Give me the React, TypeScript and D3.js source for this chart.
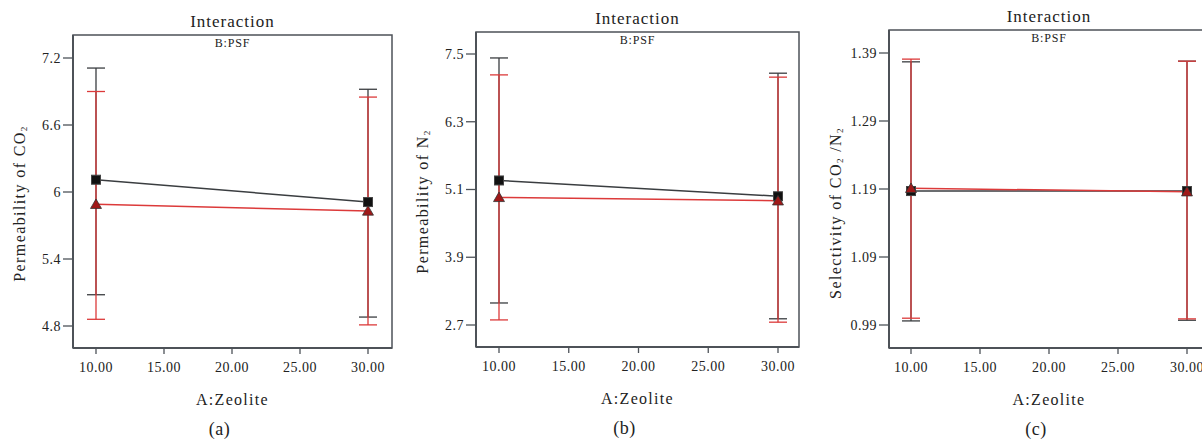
import React from "react";
import * as d3 from "d3";

// A:Zeolite levels
const zeolite = [10, 30];
const xTicks = [10, 15, 20, 25, 30];

// (a) permeability of CO2
const co2MeanLow = [6.11, 5.91];
const co2UpLow = [7.11, 6.92];
const co2DownLow = [5.08, 4.88];
const co2MeanHigh = [5.89, 5.83];
const co2UpHigh = [6.9, 6.85];
const co2DownHigh = [4.86, 4.81];
const co2Ticks = [4.8, 5.4, 6, 6.6, 7.2];

// (b) permeability of N2
const n2MeanLow = [5.26, 4.98];
const n2UpLow = [7.43, 7.16];
const n2DownLow = [3.09, 2.81];
const n2MeanHigh = [4.96, 4.9];
const n2UpHigh = [7.13, 7.09];
const n2DownHigh = [2.79, 2.75];
const n2Ticks = [2.7, 3.9, 5.1, 6.3, 7.5];

// (c) selectivity CO2/N2
const selMeanLow = [1.187, 1.187];
const selUpLow = [1.377, 1.378];
const selDownLow = [0.996, 0.997];
const selMeanHigh = [1.191, 1.186];
const selUpHigh = [1.381, 1.378];
const selDownHigh = [1.0, 0.999];
const selTicks = [0.99, 1.09, 1.19, 1.29, 1.39];

const FONT = "Liberation Serif, DejaVu Serif, serif";
const FRAME = "#4d5258";
const DARK = "#3a3d40";
const RED = "#dc3a3a";

type Series = { mean: number[]; up: number[]; down: number[] };

const panels = [
  {
    tag: "(a)",
    label: ["Permeability of CO", "2", ""],
    frame: [73, 35, 392, 348],
    xr: [96, 368],
    yd: [4.8, 7.2],
    yr: [326, 58],
    ticks: co2Ticks,
    fmt: (d: number) => String(d),
    labelDy: 12,
    low: { mean: co2MeanLow, up: co2UpLow, down: co2DownLow },
    high: { mean: co2MeanHigh, up: co2UpHigh, down: co2DownHigh },
  },
  {
    tag: "(b)",
    label: ["Permeability of N", "2", ""],
    frame: [476, 32, 799, 347],
    xr: [499, 778],
    yd: [2.7, 7.5],
    yr: [325, 54],
    ticks: n2Ticks,
    fmt: (d: number) => d.toFixed(1),
    labelDy: 12,
    low: { mean: n2MeanLow, up: n2UpLow, down: n2DownLow },
    high: { mean: n2MeanHigh, up: n2UpHigh, down: n2DownHigh },
  },
  {
    tag: "(c)",
    label: ["Selectivity of CO", "2", " /N", "2"],
    frame: [889, 30, 1209, 348],
    xr: [911, 1187],
    yd: [0.99, 1.39],
    yr: [325, 53],
    ticks: selTicks,
    fmt: (d: number) => d.toFixed(2),
    labelDy: 24,
    low: { mean: selMeanLow, up: selUpLow, down: selDownLow },
    high: { mean: selMeanHigh, up: selUpHigh, down: selDownHigh },
  },
];

const Whiskers = ({ s, x, y, color }: { s: Series; x: any; y: any; color: string }) => (
  <g stroke={color} strokeWidth={1.3}>
    {zeolite.map((z, i) => (
      <g key={i}>
        <line x1={x(z)} x2={x(z)} y1={y(s.up[i])} y2={y(s.down[i])} />
        <line x1={x(z) - 9} x2={x(z) + 9} y1={y(s.up[i])} y2={y(s.up[i])} />
        <line x1={x(z) - 9} x2={x(z) + 9} y1={y(s.down[i])} y2={y(s.down[i])} />
      </g>
    ))}
  </g>
);

const Panel = ({ p }: { p: (typeof panels)[number] }) => {
  const [l, t, r, b] = p.frame;
  const x = d3.scaleLinear().domain([10, 30]).range(p.xr);
  const y = d3.scaleLinear().domain(p.yd).range(p.yr);
  const line = d3
    .line<number>()
    .x((_, i) => x(zeolite[i]))
    .y((d) => y(d));
  const cx = (l + r) / 2;
  const cy = (t + b) / 2 + p.labelDy;
  const tri = d3.symbol(d3.symbolTriangle, 52)();
  return (
    <g style={{ fontFamily: FONT }} fill="#222">
      <text x={cx} y={t - 8} textAnchor="middle" fontSize={17} letterSpacing={1}>
        Interaction
      </text>
      <text x={cx} y={t + 12} textAnchor="middle" fontSize={12} letterSpacing={0.8}>
        B:PSF
      </text>
      <rect x={l} y={t} width={r - l} height={b - t} fill="none" stroke={FRAME} strokeWidth={1.5} />
      <line x1={l} x2={l} y1={t} y2={b} stroke={FRAME} strokeWidth={2} />
      <line x1={l} x2={r} y1={b} y2={b} stroke={FRAME} strokeWidth={2} />
      {p.ticks.map((v) => (
        <g key={v}>
          <line x1={l - 10} x2={l} y1={y(v)} y2={y(v)} stroke={FRAME} strokeWidth={1.3} />
          <text x={l - 12} y={y(v)} dy="0.35em" textAnchor="end" fontSize={14} letterSpacing={0.5}>
            {p.fmt(v)}
          </text>
        </g>
      ))}
      {xTicks.map((v) => (
        <g key={v}>
          <line x1={x(v)} x2={x(v)} y1={b} y2={b + 6} stroke={FRAME} strokeWidth={1.3} />
          <text x={x(v)} y={b + 24} textAnchor="middle" fontSize={14} letterSpacing={0.5}>
            {v.toFixed(2)}
          </text>
        </g>
      ))}
      <text x={cx} y={b + 57} textAnchor="middle" fontSize={16} letterSpacing={1.3}>
        A:Zeolite
      </text>
      <text x={cx - 13} y={b + 87} textAnchor="middle" fontSize={18} letterSpacing={0.5}>
        {p.tag}
      </text>
      <text
        transform={`translate(${l - 54},${cy}) rotate(-90)`}
        textAnchor="middle"
        dy="0.35em"
        fontSize={16}
        letterSpacing={1.4}
      >
        {p.label.map((s, i) =>
          i % 2 === 1 ? (
            <tspan key={i} fontSize={9} baselineShift="-20%">
              {s}
            </tspan>
          ) : (
            <tspan key={i}>{s}</tspan>
          )
        )}
      </text>
      <Whiskers s={p.low} x={x} y={y} color={DARK} />
      <Whiskers s={p.high} x={x} y={y} color={RED} />
      <path d={line(p.low.mean) ?? ""} fill="none" stroke={DARK} strokeWidth={1.5} />
      <path d={line(p.high.mean) ?? ""} fill="none" stroke={RED} strokeWidth={1.5} />
      {zeolite.map((z, i) => (
        <g key={i}>
          <rect x={x(z) - 4.5} y={y(p.low.mean[i]) - 4.5} width={9} height={9} fill="#111" stroke="#444" />
          <path
            d={tri ?? ""}
            transform={`translate(${x(z)},${y(p.high.mean[i]) + 1})`}
            fill="#a01818"
            stroke="#333"
            strokeWidth={0.8}
          />
        </g>
      ))}
    </g>
  );
};

export default function App() {
  return (
    <svg
      width={1202}
      height={441}
      style={{ position: "absolute", left: 0, top: 0, background: "#fff" }}
    >
      {panels.map((p) => (
        <Panel key={p.tag} p={p} />
      ))}
    </svg>
  );
}
